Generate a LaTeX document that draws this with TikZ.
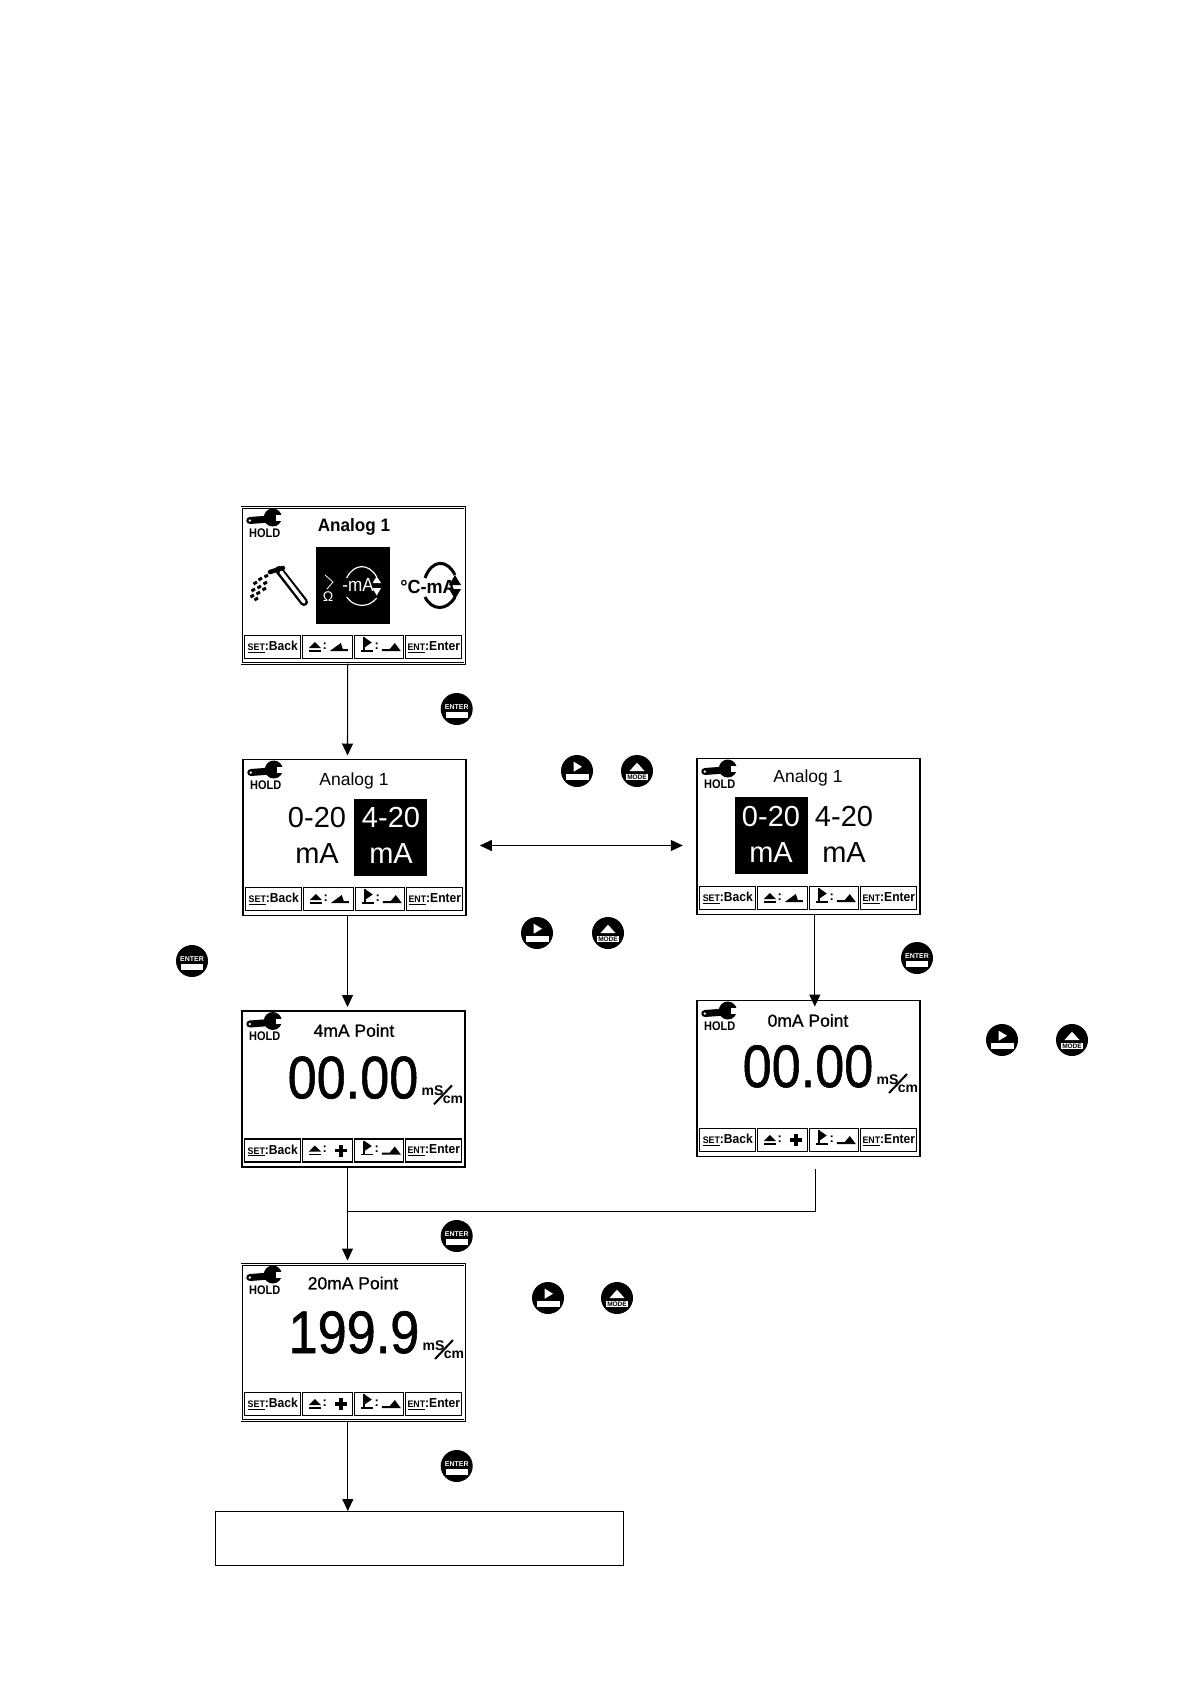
\documentclass[tikz,border=0pt]{standalone}
\usepackage{fontspec}
\setmainfont{Liberation Sans}
\newfontfamily\semifont[FakeBold=1]{Liberation Sans}
\usepackage{xcolor}
\usetikzlibrary{arrows.meta, positioning}

% wrench and HOLD in the corner of a screen
\newcommand{\holdmark}[1]{
  \begin{scope}[shift={(#1.north west)}]
    \draw[line width=7pt, line cap=round] (8,13) -- (28,11.5);
    \fill (31,10) circle (9pt);
    \fill[white] (34,7.5) rectangle (43,13);
    \fill[white] (8,13) circle (1.3pt);
    \node[holdtext] (#1hold) at (23,25.5) {\scalebox{.88}[1]{HOLD}};
  \end{scope}
}

% the four keys along the bottom of a screen, #2 is drawn in the second one
\newcommand{\softkeys}[2]{
  \node[softkey, minimum width=56pt, anchor=south west] (#1keya) at ([xshift=3pt,yshift=5pt]#1.south west)
    {\scalebox{.93}[1]{{\fontsize{9.5}{10}\selectfont\underline{SET}}:Back}};
  \node[softkey, minimum width=50pt, right=2pt of #1keya] (#1keyb) {};
  \node[softkey, minimum width=49pt, right=2pt of #1keyb] (#1keyc) {};
  \node[softkey, minimum width=56pt, right=2pt of #1keyc] (#1keyd)
    {\scalebox{.93}[1]{{\fontsize{9.5}{10}\selectfont\underline{ENT}}:Enter}};
  \begin{scope}[shift={(#1keyb.west)}]
    \fill (6,1) -- (12,-5) -- (18,1) -- cycle;
    \fill (6,3) rectangle (18,4.5);
    \node[keytext] (#1colb) at (22,-1) {:};
    #2
  \end{scope}
  \begin{scope}[shift={(#1keyc.west)}]
    \fill (9,-10) -- (17,-4.5) -- (9,1) -- cycle;
    \fill (6,3) rectangle (18,4.5);
    \fill (8.5,-10) rectangle (10,3);
    \node[keytext] (#1colc) at (22,-1) {:};
    \fill (27,4) -- (27,2) -- (35,2) -- (40,-4) -- (46,4) -- cycle;
  \end{scope}
}
\newcommand{\rampkey}{\fill (27,4) -- (38,-4) -- (40,2) -- (45,2) -- (45,4) -- cycle;}
\newcommand{\pluskey}{\fill (36.2,-6) rectangle (39.8,6); \fill (32,-1.8) rectangle (44,1.8);}

% unit next to a large reading
\newcommand{\unitmark}[1]{
  \begin{scope}[shift={(#1.base)}]
    \node[unittext, anchor=base] (#1ms) at (79.5,-3) {mS};
    \node[unittext, anchor=base] (#1cm) at (100,5.5) {cm};
    \draw[line width=2pt] (81,6) -- (99,-13);
  \end{scope}
}

% buttons
\newcommand{\enterbtn}[3]{
  \node[roundbtn] (#1) at (#2,#3) {};
  \begin{scope}[shift={(#1.center)}]
    \node[btntext, text=white] (#1txt) at (0,-2) {ENTER};
    \fill[white] (-11,2.7) rectangle (11,9.3);
  \end{scope}
}
\newcommand{\playbtn}[3]{
  \node[roundbtn] (#1) at (#2,#3) {};
  \begin{scope}[shift={(#1.center)}]
    \fill[white] (-3.3,-9.3) -- (5,-4.3) -- (-3.3,0.7) -- cycle;
    \fill[white] (-11,3) rectangle (11.5,8.5);
  \end{scope}
}
\newcommand{\modebtn}[3]{
  \node[roundbtn] (#1) at (#2,#3) {};
  \begin{scope}[shift={(#1.center)}]
    \fill[white] (-7.5,0) -- (0,-8.3) -- (7.5,0) -- cycle;
    \fill[white] (-11,3) rectangle (11,9);
    \node[btntext, font=\fontsize{6.5}{7}\selectfont\bfseries] (#1txt) at (0,6) {MODE};
  \end{scope}
}

\begin{document}
\begin{tikzpicture}[
    x=1pt, y=-1pt,
    >={Triangle[width=11pt,length=12pt]},
    screen/.style={rectangle, draw, line width=1.5pt, fill=white, minimum width=223pt, minimum height=156pt, inner sep=0pt, outer sep=0pt},
    framed/.style={screen, line width=.8pt, double, double distance=1pt},
    softkey/.style={rectangle, draw, line width=1.2pt, minimum height=23pt, inner sep=0pt, outer sep=0pt, font=\fontsize{13}{13}\selectfont\bfseries},
    keytext/.style={inner sep=0pt, font=\fontsize{13}{13}\selectfont\bfseries},
    holdtext/.style={inner sep=0pt, font=\fontsize{12.5}{13}\selectfont\bfseries},
    unittext/.style={inner sep=0pt, font=\fontsize{14}{14}\selectfont\bfseries},
    screentitle/.style={anchor=base, inner sep=0pt, font=\fontsize{17.5}{18}\selectfont},
    rangetext/.style={anchor=base, inner sep=0pt, font=\fontsize{29}{29}\selectfont},
    bignum/.style={anchor=base, inner sep=0pt, font=\fontsize{60}{60}\semifont},
    selbox/.style={rectangle, fill=black, inner sep=0pt, outer sep=0pt},
    roundbtn/.style={circle, fill=black, minimum size=32pt, inner sep=0pt},
    btntext/.style={inner sep=0pt, font=\fontsize{7}{7}\selectfont\bfseries},
    arrow/.style={->, line width=1.1pt}
]
\useasboundingbox (0,0) rectangle (1190,1684);

% Screens
\node[framed] (analogsel) at (353.3,585.5) {};
\node[screen, below=96pt of analogsel, xshift=1pt] (rangefour) {};
\node[screen, below=95.5pt of rangefour, xshift=-1pt] (pointfour) {};
\node[framed, below=97.5pt of pointfour] (pointtwenty) {};
\node[screen, right=231pt of rangefour, yshift=1pt] (rangezero) {};
\node[screen, below=86pt of rangezero] (pointzero) {};
\node[rectangle, draw, line width=1pt, minimum width=408pt, minimum height=54pt, outer sep=0pt, below=90.5pt of pointtwenty, xshift=66pt] (endbox) {};

\holdmark{analogsel}
\holdmark{rangefour}
\holdmark{rangezero}
\holdmark{pointfour}
\holdmark{pointzero}
\holdmark{pointtwenty}

\softkeys{analogsel}{\rampkey}
\softkeys{rangefour}{\rampkey}
\softkeys{rangezero}{\rampkey}
\softkeys{pointfour}{\pluskey}
\softkeys{pointzero}{\pluskey}
\softkeys{pointtwenty}{\pluskey}

% First screen
\node[screentitle, font=\fontsize{18}{18}\selectfont\bfseries] (analogselt) at (354,531.7) {\scalebox{.95}[1]{Analog 1}};
\draw[line width=8pt, line cap=round] (279,570) -- (304,602);
\draw[white, line width=3.5pt, line cap=round] (281,572) -- (304,602);
\draw[line width=4.5pt, line cap=round] (270,572) -- (283,568);
\foreach \sx/\sy in {268/575,262/578,257/582,267/582,261/586,255/589,266/588,260/592,254/595,258/598}
  \draw[line width=3pt] (\sx,\sy) -- +(-3.5,2);

\node[selbox, minimum width=74pt, minimum height=77pt] (analogmark) at (353,585.5) {};
\node[inner sep=0pt, text=white, font=\fontsize{19}{19}\selectfont] (ohmma) at (358,585) {\scalebox{.9}[1]{-mA}};
\node[inner sep=0pt, text=white, font=\fontsize{14}{14}\selectfont] (ohmsign) at (328,597) {Ω};
\draw[white, line width=.8pt] (325,575) -- (333,582) -- (327,589);
\draw[white, line width=1.2pt] (346.7,578) .. controls (354,563) and (369,563) .. (376.7,577);
\draw[white, line width=1.2pt] (346.7,597) .. controls (354,608) and (369,608) .. (376.7,598);
\fill[white] (372.5,583) -- (376.7,576.5) -- (381,583) -- cycle;
\fill[white] (372.5,588) -- (376.7,595.5) -- (381,588) -- cycle;

\node[inner sep=0pt, font=\fontsize{19}{19}\selectfont\bfseries] (tempma) at (428,587) {\scalebox{.95}[1]{°C-mA}};
\draw[line width=3pt] (425,578) .. controls (432,559) and (447,559) .. (455,575);
\draw[line width=3pt] (425,597) .. controls (432,611) and (447,611) .. (455,597);
\fill (449,585) -- (455,575) -- (461,585) -- cycle;
\fill (449,589) -- (455,599) -- (461,589) -- cycle;

% Range screens
\node[screentitle] (rangefourt) at (354,785) {Analog 1};
\node[selbox, minimum width=73pt, minimum height=77pt] (fourmark) at (390.5,837.5) {};
\node[rangetext] (fourzero) at (317,827) {0-20};
\node[rangetext] (fourzeroma) at (317,863) {mA};
\node[rangetext, text=white] (fourfour) at (391,827) {4-20};
\node[rangetext, text=white] (fourfourma) at (391,863) {mA};

\node[screentitle] (rangezerot) at (808,782.7) {Analog 1};
\node[selbox, minimum width=73pt, minimum height=77pt] (zeromark) at (771.5,835.5) {};
\node[rangetext, text=white] (zerozero) at (771,826) {0-20};
\node[rangetext, text=white] (zerozeroma) at (771,862) {mA};
\node[rangetext] (zerofour) at (844,826) {4-20};
\node[rangetext] (zerofourma) at (844,862) {mA};

% Point screens
\node[screentitle] (pointfourt) at (354,1036.7) {\semifont 4mA Point};
\node[bignum] (pointfourn) at (353,1098.3) {\scalebox{.87}[1]{00.00}};
\unitmark{pointfourn}

\node[screentitle] (pointzerot) at (808,1026.7) {\semifont 0mA Point};
\node[bignum] (pointzeron) at (808,1087) {\scalebox{.87}[1]{00.00}};
\unitmark{pointzeron}

\node[screentitle] (pointtwentyt) at (353,1289.3) {\semifont 20mA Point};
\node[bignum] (pointtwentyn) at (354,1353) {\scalebox{.87}[1]{199.9}};
\unitmark{pointtwentyn}

% Buttons
\enterbtn{enterone}{456.7}{709}
\enterbtn{entertwo}{192}{961}
\enterbtn{enterthree}{917}{958}
\enterbtn{enterfour}{456.7}{1236}
\enterbtn{enterfive}{456.7}{1466}

\playbtn{playone}{577}{771}
\modebtn{modeone}{637}{771}
\playbtn{playtwo}{537}{933}
\modebtn{modetwo}{608}{933}
\playbtn{playthree}{1002}{1040}
\modebtn{modethree}{1072}{1040}
\playbtn{playfour}{548}{1298}
\modebtn{modefour}{617}{1298}

% Arrows
\draw[arrow] ([xshift=-5.6pt]analogsel.south) -- ([xshift=-6.8pt,yshift=4pt]rangefour.north);
\draw[arrow] ([xshift=-6.8pt]rangefour.south) -- ([xshift=-5.8pt,yshift=4pt]pointfour.north);
\draw[arrow] ([xshift=-5.8pt]pointfour.south) -- ([xshift=-5.8pt,yshift=4pt]pointtwenty.north);
\draw[arrow] ([xshift=-5.5pt]pointtwenty.south) -- ([xshift=-71.5pt]endbox.north);
\draw[arrow, <->] ([xshift=14pt,yshift=-8pt]rangefour.east) -- ([xshift=-14pt,yshift=-9pt]rangezero.west);
\draw[arrow] ([xshift=6.5pt]rangezero.south) -- ([xshift=6.5pt,yshift=-6pt]pointzero.north);

\coordinate (zeroout) at (815.3,1169);
\coordinate (joinleft) at (347.5,1211);
\draw[line width=.9pt] (zeroout) |- (joinleft);

\end{tikzpicture}
\end{document}
